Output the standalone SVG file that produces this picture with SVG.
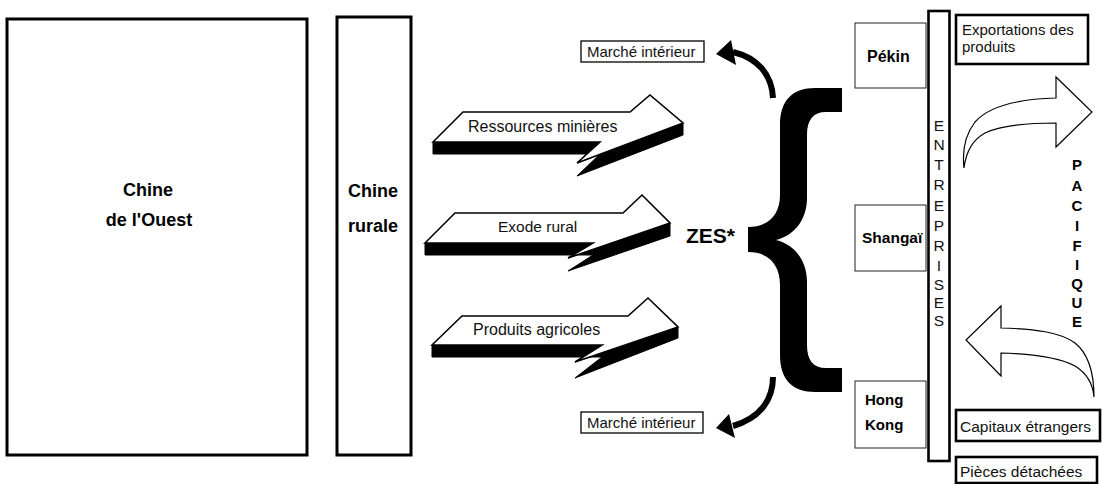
<svg xmlns="http://www.w3.org/2000/svg" width="1103" height="484" viewBox="0 0 1103 484">
<style>
.big{fill:#fff;stroke:#000;stroke-width:3}
.bl{font-family:"Liberation Sans",Arial,sans-serif;font-weight:bold;fill:#000}
.rg{font-family:"Liberation Sans",Arial,sans-serif;fill:#111}
.face{fill:#fff;stroke:#000;stroke-width:1.6;stroke-linejoin:miter}
.ext{fill:#000;stroke:#000;stroke-width:1}
.city{fill:#fff;stroke:#222;stroke-width:1}
.lbl{fill:#fff;stroke:#000;stroke-width:1.3}
.tb{fill:#fff;stroke:#000;stroke-width:2.6}
.oarr{fill:#fff;stroke:#000;stroke-width:1.2;stroke-linejoin:miter}
</style>
<rect width="1103" height="484" fill="#fff"/>

<g id="chine-ouest">
<rect class="big" x="7" y="19" width="300" height="436"/>
<text class="bl" font-size="18" x="148" y="196" text-anchor="middle">Chine</text>
<text class="bl" font-size="18" x="149" y="226" text-anchor="middle">de l'Ouest</text>
</g>
<g id="chine-rurale">
<rect class="big" x="337" y="17" width="74" height="438"/>
<text class="bl" font-size="18" x="373" y="197" text-anchor="middle">Chine</text>
<text class="bl" font-size="18" x="373" y="232" text-anchor="middle">rurale</text>
</g>

<g id="connectors">
<g id="arrow-ressources">
<polygon class="ext" points="433,142 433,154 600,154 577,176 683,135 683,123 577,163 600,142"/>
<polygon class="face" points="433,142 463,112 630,112 650,95 683,123 577,163 600,142"/>
<text class="rg" font-size="16" x="468" y="132">Ressources minières</text>
</g>
<g id="arrow-exode">
<polygon class="ext" points="425,243 425,255 593,255 568,271 670,236 670,223 568,258 593,243"/>
<polygon class="face" points="425,243 455,213 623,213 642,195 670,223 568,258 593,243"/>
<text class="rg" font-size="15.5" x="498" y="232">Exode rural</text>
</g>
<g id="arrow-produits">
<polygon class="ext" points="432,345 432,357 602,357 575,378 678,338 678,327 575,362 602,345"/>
<polygon class="face" points="432,345 462,316 628,316 648,298 678,327 575,362 602,345"/>
<text class="rg" font-size="16" x="473" y="335">Produits agricoles</text>
</g>
<g id="curve-top">
<path d="M 773 98 C 772 75 758 58 733 52" fill="none" stroke="#000" stroke-width="6"/>
<polygon points="716,54 731,40 736,65" fill="#000"/>
</g>
<g id="curve-bottom">
<path d="M 773 377 C 773 400 760 418 733 426" fill="none" stroke="#000" stroke-width="6"/>
<polygon points="716,428 729,414 735,438" fill="#000"/>
</g>
<g id="arrow-export">
<path class="oarr" d="M 964 168 C 962 150 965 135 975 122 C 990 105 1020 99 1056 98 L 1056 77 L 1092 112 L 1056 147 L 1056 123 C 1025 123 1000 126 985 133 C 972 140 966 152 964 168 Z"/>
</g>
<g id="arrow-capitaux">
<path class="oarr" d="M 1094 397 C 1094 375 1090 355 1075 343 C 1060 332 1035 329 1001 328 L 1001 306 L 966 340 L 1001 376 L 1001 353 C 1035 354 1060 358 1075 366 C 1088 374 1093 385 1094 397 Z"/>
</g>
</g>

<g id="marche-haut">
<rect class="lbl" x="581" y="41" width="123" height="21"/>
<text class="rg" font-size="15" x="587" y="57">Marché intérieur</text>
</g>
<g id="marche-bas">
<rect class="lbl" x="581" y="412" width="122" height="21"/>
<text class="rg" font-size="15" x="587" y="428">Marché intérieur</text>
</g>

<g id="zes">
<text class="bl" font-size="21" x="686" y="243">ZES*</text>
<path fill="#000" d="M 842 88 L 815 88 C 793 88 780 100 780 125 L 780 195 C 780 215 768 227 748 227 L 748 252 C 768 252 780 264 780 285 L 780 355 C 780 380 793 392 815 392 L 842 392 L 842 368 L 826 368 C 813 368 807 360 807 345 L 807 282 C 807 262 796 245 776 240 C 796 235 807 218 807 198 L 807 135 C 807 120 813 112 826 112 L 842 112 Z"/>
</g>

<g id="pekin">
<rect class="city" x="855" y="23" width="71" height="65"/>
<text class="bl" font-size="16" x="867" y="62">Pékin</text>
</g>
<g id="shangai">
<rect class="city" x="855" y="205" width="71" height="66"/>
<text class="bl" font-size="15.5" x="862" y="243">Shangaï</text>
</g>
<g id="hongkong">
<rect class="city" x="855" y="381" width="71" height="67"/>
<text class="bl" font-size="15" x="865" y="405">Hong</text>
<text class="bl" font-size="15" x="865" y="430">Kong</text>
</g>

<g id="entreprises">
<rect class="tb" x="928.5" y="11" width="21" height="450" stroke-width="3"/>
<g class="rg" font-size="15.5" text-anchor="middle" fill="#333">
<text x="939" y="131">E</text>
<text x="939" y="150">N</text>
<text x="939" y="170">T</text>
<text x="939" y="190">R</text>
<text x="939" y="211">E</text>
<text x="939" y="231">P</text>
<text x="939" y="251">R</text>
<text x="939" y="271">I</text>
<text x="939" y="290">S</text>
<text x="939" y="308">E</text>
<text x="939" y="326">S</text>
</g>
</g>

<g id="exportations">
<rect class="tb" x="956" y="15" width="132" height="49"/>
<text class="rg" font-size="15" x="962" y="35">Exportations des</text>
<text class="rg" font-size="15" x="962" y="52">produits</text>
</g>

<g id="pacifique" class="bl" font-size="15" text-anchor="middle">
<text x="1077" y="170">P</text>
<text x="1077" y="191">A</text>
<text x="1077" y="211">C</text>
<text x="1077" y="231">I</text>
<text x="1077" y="251">F</text>
<text x="1077" y="270">I</text>
<text x="1077" y="289">Q</text>
<text x="1077" y="308">U</text>
<text x="1077" y="327">E</text>
</g>

<g id="capitaux">
<rect class="tb" x="956" y="410" width="144" height="31"/>
<text class="rg" font-size="15.5" x="960" y="432">Capitaux étrangers</text>
</g>
<g id="pieces">
<rect class="tb" x="956" y="457" width="141" height="26"/>
<text class="rg" font-size="15.5" x="960" y="477">Pièces détachées</text>
</g>
</svg>
